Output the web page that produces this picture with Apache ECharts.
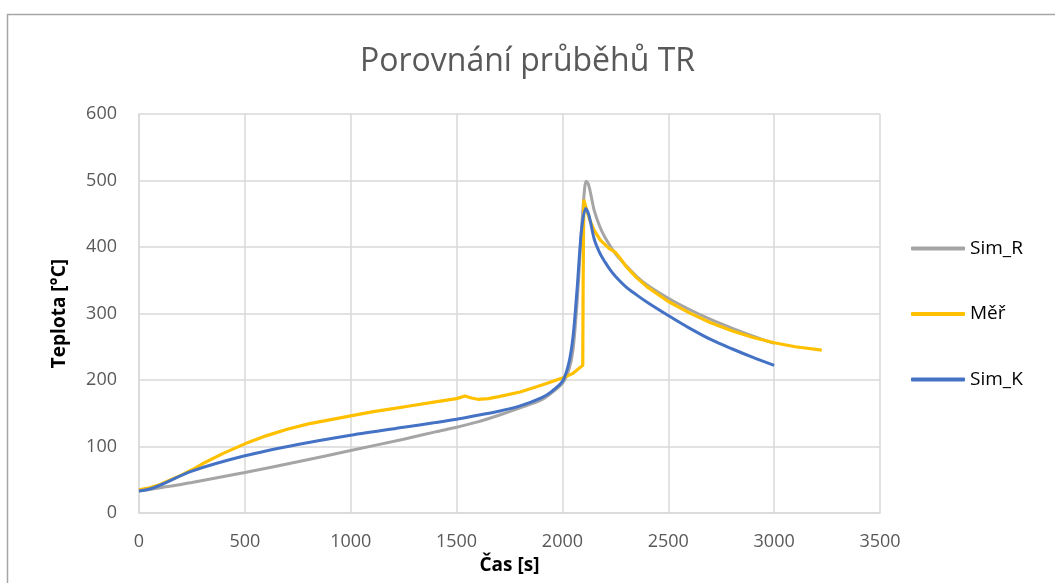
<!DOCTYPE html>
<html>
<head>
<meta charset="utf-8">
<script src="https://cdn.jsdelivr.net/npm/echarts@6/dist/echarts.min.js"></script>
<style>
  html, body { margin: 0; padding: 0; background: #ffffff; }
  #chart { width: 1055px; height: 583px; }
</style>
</head>
<body>
<div id="chart"></div>
<script>
// Time [s] and temperature [°C] for each run
const simR_t = [0, 100, 250, 500, 750, 1000, 1250, 1400, 1500, 1600, 1700, 1800, 1900, 1950, 2000, 2030, 2050, 2070, 2085, 2100, 2112, 2122, 2135, 2150, 2175, 2200, 2250, 2300, 2350, 2400, 2500, 2600, 2700, 2800, 2900, 3000];
const simR_T = [33, 38, 46, 61, 77, 94, 111, 122, 129, 137, 147, 158, 170, 181, 195, 215, 245, 320, 400, 470, 499, 495, 478, 455, 432, 415, 390, 372, 356, 343, 323, 306, 291, 278, 266, 255];

const mer_t = [0, 50, 100, 150, 200, 250, 300, 400, 500, 600, 700, 800, 900, 1000, 1100, 1200, 1300, 1400, 1500, 1540, 1570, 1600, 1650, 1700, 1800, 1900, 2000, 2050, 2096, 2098, 2101, 2115, 2130, 2150, 2180, 2220, 2250, 2280, 2300, 2350, 2400, 2500, 2600, 2700, 2800, 2900, 3000, 3100, 3225];
const mer_T = [35, 38, 43, 50, 57, 65, 74, 90, 104, 116, 126, 134, 140, 146, 152, 157, 162, 167, 172, 176, 173, 171, 172, 175, 182, 192, 203, 210, 222, 350, 471, 455, 440, 425, 410, 398, 392, 380, 371, 354, 340, 318, 301, 286, 274, 264, 256, 250, 245];

const simK_t = [0, 50, 100, 250, 500, 750, 1000, 1250, 1400, 1500, 1600, 1700, 1800, 1900, 1950, 2000, 2030, 2050, 2070, 2090, 2110, 2125, 2150, 2175, 2200, 2225, 2250, 2300, 2350, 2400, 2500, 2600, 2700, 2800, 2900, 3000];
const simK_T = [33, 36, 42, 63, 86, 103, 117, 129, 136, 141, 147, 153, 161, 173, 183, 198, 225, 265, 340, 425, 458, 448, 412, 392, 378, 366, 356, 340, 328, 317, 297, 278, 261, 247, 234, 222];

const seriesNames = ['Sim_R', 'Měř', 'Sim_K'];
const seriesColors = ['#a5a5a5', '#ffc000', '#4472c4'];

const pairs = (t, v) => t.map((x, i) => [x, v[i]]);

const FONT = '"Open Sans", "Noto Sans", sans-serif';

const chart = echarts.init(document.getElementById('chart'), null, { renderer: 'canvas' });

chart.setOption({
  animation: false,
  backgroundColor: '#ffffff',
  title: {
    text: 'Porovnání průběhů TR',
    left: 'center',
    top: 41,
    textStyle: { fontFamily: FONT, fontSize: 32, fontWeight: 'normal', color: '#595959' }
  },
  grid: { left: 139, right: 175, top: 114, bottom: 70, containLabel: false },
  legend: {
    orient: 'vertical',
    left: 906,
    top: 234,
    icon: 'roundRect',
    itemWidth: 54,
    itemHeight: 4,
    itemGap: 46.5,
    data: seriesNames,
    textStyle: { fontFamily: FONT, fontSize: 19, color: '#000000', padding: [0, 0, 0, 0] }
  },
  xAxis: {
    type: 'value',
    min: 0,
    max: 3500,
    interval: 500,
    name: 'Čas [s]',
    nameLocation: 'middle',
    nameGap: 34,
    nameTextStyle: { fontFamily: FONT, fontSize: 19, fontWeight: 'bold', color: '#000000' },
    axisLine: { show: true, lineStyle: { color: '#d9d9d9', width: 1.5 } },
    axisTick: { show: false },
    axisLabel: { fontFamily: FONT, fontSize: 18, color: '#595959', margin: 20, formatter: v => String(v) },
    splitLine: { show: true, lineStyle: { color: '#d9d9d9', width: 1.5 } }
  },
  yAxis: {
    type: 'value',
    min: 0,
    max: 600,
    interval: 100,
    name: 'Teplota [°C]',
    nameLocation: 'middle',
    nameGap: 70,
    nameTextStyle: { fontFamily: FONT, fontSize: 19, fontWeight: 'bold', color: '#000000' },
    axisLine: { show: true, lineStyle: { color: '#d9d9d9', width: 1.5 } },
    axisTick: { show: false },
    axisLabel: { fontFamily: FONT, fontSize: 18, color: '#595959', margin: 22, formatter: v => String(v) },
    splitLine: { show: true, lineStyle: { color: '#d9d9d9', width: 1.5 } }
  },
  graphic: [{
    type: 'rect',
    shape: { x: 7.5, y: 14.5, width: 1200, height: 700 },
    style: { fill: 'none', stroke: '#a6a6a6', lineWidth: 1.5 },
    silent: true,
    z: 100
  }],
  series: [
    { name: seriesNames[0], type: 'line', data: pairs(simR_t, simR_T), smooth: 0.3, symbol: 'none',
      lineStyle: { color: seriesColors[0], width: 3 }, itemStyle: { color: seriesColors[0] } },
    { name: seriesNames[1], type: 'line', data: pairs(mer_t, mer_T), smooth: false, symbol: 'none',
      lineStyle: { color: seriesColors[1], width: 3.2 }, itemStyle: { color: seriesColors[1] } },
    { name: seriesNames[2], type: 'line', data: pairs(simK_t, simK_T), smooth: 0.3, symbol: 'none',
      lineStyle: { color: seriesColors[2], width: 3 }, itemStyle: { color: seriesColors[2] } }
  ]
});
</script>
</body>
</html>
